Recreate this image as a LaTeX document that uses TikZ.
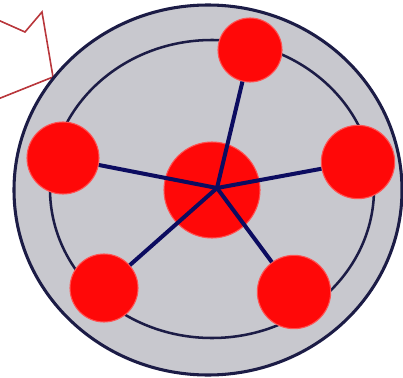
\documentclass[tikz,border=0pt]{standalone}
\definecolor{discgray}{RGB}{200,200,206}
\definecolor{rimnavy}{RGB}{28,28,70}
\definecolor{spokenavy}{RGB}{12,12,96}
\definecolor{ballred}{RGB}{255,8,8}
\definecolor{arrowred}{RGB}{185,55,60}
\begin{document}
\begin{tikzpicture}[x=0.75pt,y=-0.75pt,
  ball/.style={circle,fill=ballred,draw=ballred!70!white,line width=0.8pt,inner sep=0pt,minimum size=#1},
  spoke/.style={draw=spokenavy,line width=3pt},
  rim/.style={draw=rimnavy,line width=#1}]
\useasboundingbox (0,0) rectangle (403,378);
% partial notched arrow outline at top left
\draw[draw=arrowred,line width=1.2pt,line join=miter]
  (-2,20) -- (25,32) -- (42,12) -- (53,77) -- (-2,99);
% disc
\filldraw[fill=discgray,rim=2.3pt] (208,190) ellipse [x radius=194,y radius=185];
\draw[rim=1.9pt] (212,189) ellipse [x radius=162,y radius=149];
% hub
\node[ball=72pt] (hub) at (212,190) {};
\coordinate (h) at (217,188);
% outer balls
\node[ball=48pt] (top) at (250,50) {};
\node[ball=54pt] (left) at (63,158) {};
\node[ball=55pt] (right) at (358,162) {};
\node[ball=51pt] (bl) at (104,288) {};
\node[ball=55pt] (br) at (294,292) {};
% spokes
\draw[spoke] (h) -- (top);
\draw[spoke] (h) -- (left);
\draw[spoke] (h) -- (right);
\draw[spoke] (h) -- (bl);
\draw[spoke] (h) -- (br);
\end{tikzpicture}
\end{document}
